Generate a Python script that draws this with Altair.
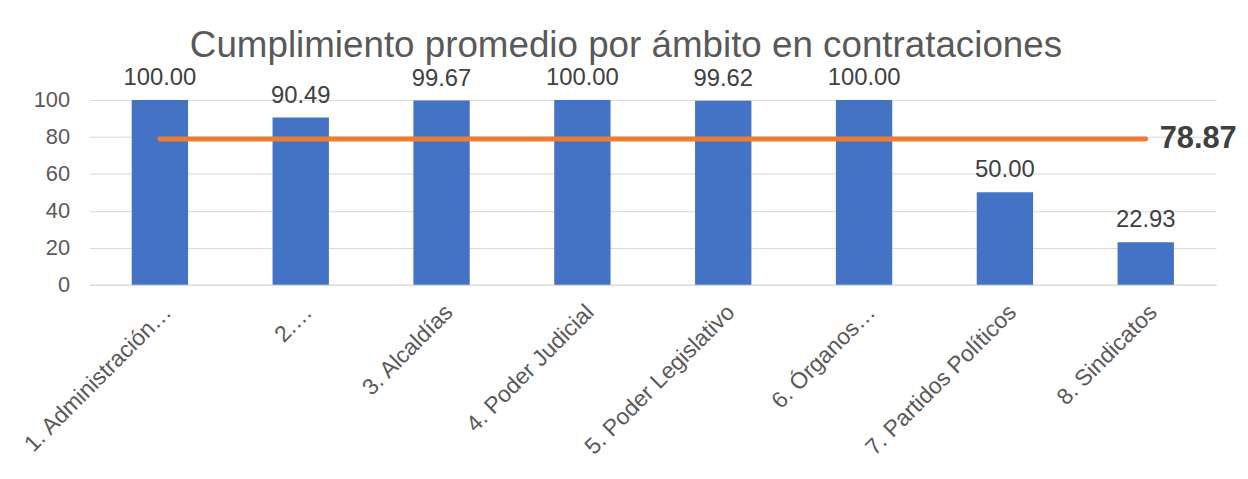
import altair as alt
import pandas as pd

categories = ["1. Administración…", "2.…", "3. Alcaldías", "4. Poder Judicial",
              "5. Poder Legislativo", "6. Órganos…", "7. Partidos Políticos", "8. Sindicatos"]
values = [100.00, 90.49, 99.67, 100.00, 99.62, 100.00, 50.00, 22.93]
average = 78.87
title_text = "Cumplimiento promedio por ámbito en contrataciones"
y_ticks = [0, 20, 40, 60, 80, 100]

FONT = "Liberation Sans"

df = pd.DataFrame({"cat": categories, "val": values,
                   "lab": [f"{v:.2f}" for v in values]})
avg_df = pd.DataFrame({"cat": [categories[0], categories[-1]], "val": [average, average]})
avg_lab = pd.DataFrame({"cat": [categories[-1]], "val": [average], "lab": [f"{average:.2f}"]})
title_df = pd.DataFrame({"t": [title_text]})

x_scale = alt.Scale(domain=categories, paddingInner=0.6, paddingOuter=0.3)
y_scale = alt.Scale(domain=[0, 100], nice=False)

x_axis = alt.Axis(labelAngle=-45, labelAlign="right", labelBaseline="top",
                  labelFont=FONT, labelFontSize=23, labelColor="#595959",
                  labelPadding=16, ticks=False, domain=True,
                  domainColor="#D9D9D9", domainWidth=1, grid=False,
                  labelLimit=400, labelOverlap=False)
y_axis = alt.Axis(values=y_ticks, labelFont=FONT, labelFontSize=22,
                  labelColor="#595959", labelPadding=20, ticks=False,
                  domain=False, grid=True, gridColor="#D9D9D9", gridWidth=1,
                  labelOverlap=False, labelFlush=False)

x_enc = alt.X("cat:N", sort=categories, title=None, scale=x_scale, axis=x_axis)
y_enc = alt.Y("val:Q", title=None, scale=y_scale, axis=y_axis)

base = alt.Chart(df)
bars = base.mark_bar(color="#4472C4").encode(x=x_enc, y=y_enc)
labels = base.mark_text(font=FONT, fontSize=24, color="#404040", baseline="alphabetic",
                        dy=-15).encode(x=x_enc, y=y_enc, text="lab:N")
line = alt.Chart(avg_df).mark_line(color="#ED7D31", strokeWidth=5, strokeCap="round").encode(
    x=x_enc, y=y_enc)
avg_text = alt.Chart(avg_lab).mark_text(font=FONT, fontSize=31, fontWeight="bold",
                                        color="#404040", align="left", baseline="middle",
                                        dx=14).encode(x=x_enc, y=y_enc, text="lab:N")
title = alt.Chart(title_df).mark_text(font=FONT, fontSize=37, color="#595959",
                                      align="center", baseline="alphabetic").encode(
    x=alt.value(540), y=alt.value(-43), text="t:N")

chart = alt.layer(bars, line, labels, avg_text, title).properties(
    width=1134, height=186,
    background="white",
    autosize=alt.AutoSizeParams(type="none"),
    padding={"left": 82, "top": 91, "right": 24, "bottom": 194},
).configure_view(stroke=None).configure_axis(labelOverlap=False)

chart.save("out.html", embed_options={"renderer": "svg", "actions": False})
